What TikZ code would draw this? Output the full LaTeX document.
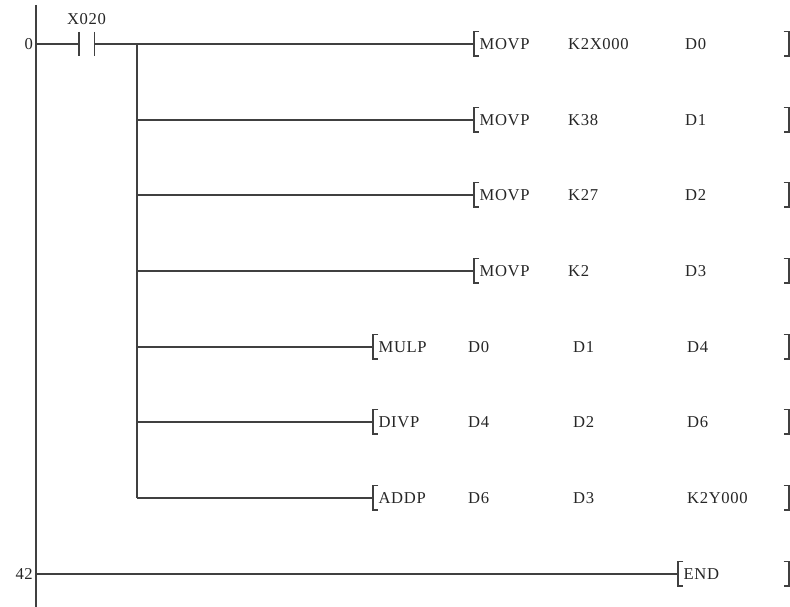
\documentclass[tikz,border=0pt]{standalone}
\usepackage{fontspec}
\newfontfamily\plcfont{Liberation Serif}[LetterSpace=4]
\usepackage{tikz}
\usetikzlibrary{positioning}

\tikzset{
  rung/.style={line width=1.4pt, draw=black!75},
  plctext/.style={inner sep=0pt, text=black!85, font=\plcfont\fontsize{16.6}{16.6}\selectfont},
  brk/.style={inner sep=0pt, minimum width=5pt, minimum height=24pt},
}

\begin{document}
\begin{tikzpicture}[x=1pt,y=1pt]
\useasboundingbox (0,0) rectangle (790,607);

% power rail
\coordinate (railtop) at (36,602);
\coordinate (railbot) at (36,0);
\draw[rung] (railtop) -- (railbot);

% step numbers
\node[plctext, anchor=east] (step0) at (33,563) {0};
\node[plctext, anchor=east] (step42) at (33,33) {42};

% contact X020
\coordinate (r0) at (36,563);
\node[inner sep=0pt, minimum width=15pt, minimum height=24pt] (x020) at (86.5,563) {};
\draw[rung] (x020.north west) -- (x020.south west);
\draw[rung] (x020.north east) -- (x020.south east);
\node[plctext, above=7pt of x020] (lblx020) {X020};
\coordinate (br) at (137,563);
\draw[rung] (r0) -- (x020.west);
\draw[rung] (x020.east) -- (br);

% move rows
\foreach \n/\y/\a/\b in {1/563/K2X000/D0, 2/487/K38/D1, 3/412/K27/D2, 4/336/K2/D3}{
  \coordinate (t\n) at (137,\y);
  \node[brk, anchor=west] (lb\n) at (474,\y) {};
  \draw[rung] (t\n) -- (lb\n.west);
  \draw[rung] (lb\n.north east) -- (lb\n.north west) -- (lb\n.south west) -- (lb\n.south east);
  \node[plctext, right=0pt of lb\n] (ins\n) {MOVP};
  \node[plctext, anchor=west] (opa\n) at (568,\y) {\a};
  \node[plctext, anchor=west] (opb\n) at (685,\y) {\b};
  \node[brk, anchor=east] (rb\n) at (789,\y) {};
  \draw[rung] (rb\n.north west) -- (rb\n.north east) -- (rb\n.south east) -- (rb\n.south west);
}

% arithmetic rows
\foreach \n/\y/\ins/\a/\b/\c in {5/260/MULP/D0/D1/D4, 6/185/DIVP/D4/D2/D6, 7/109/ADDP/D6/D3/K2Y000}{
  \coordinate (t\n) at (137,\y);
  \node[brk, anchor=west] (lb\n) at (373,\y) {};
  \draw[rung] (t\n) -- (lb\n.west);
  \draw[rung] (lb\n.north east) -- (lb\n.north west) -- (lb\n.south west) -- (lb\n.south east);
  \node[plctext, right=0pt of lb\n] (ins\n) {\ins};
  \node[plctext, anchor=west] (opa\n) at (468,\y) {\a};
  \node[plctext, anchor=west] (opb\n) at (573,\y) {\b};
  \node[plctext, anchor=west] (opc\n) at (687,\y) {\c};
  \node[brk, anchor=east] (rb\n) at (789,\y) {};
  \draw[rung] (rb\n.north west) -- (rb\n.north east) -- (rb\n.south east) -- (rb\n.south west);
}

% branch
\draw[rung] (br) -- (t7);

% end
\coordinate (r42) at (36,33);
\node[brk, anchor=west] (lbend) at (678,33) {};
\draw[rung] (r42) -- (lbend.west);
\draw[rung] (lbend.north east) -- (lbend.north west) -- (lbend.south west) -- (lbend.south east);
\node[plctext, right=0pt of lbend] (insend) {END};
\node[brk, anchor=east] (rbend) at (789,33) {};
\draw[rung] (rbend.north west) -- (rbend.north east) -- (rbend.south east) -- (rbend.south west);
\end{tikzpicture}
\end{document}
